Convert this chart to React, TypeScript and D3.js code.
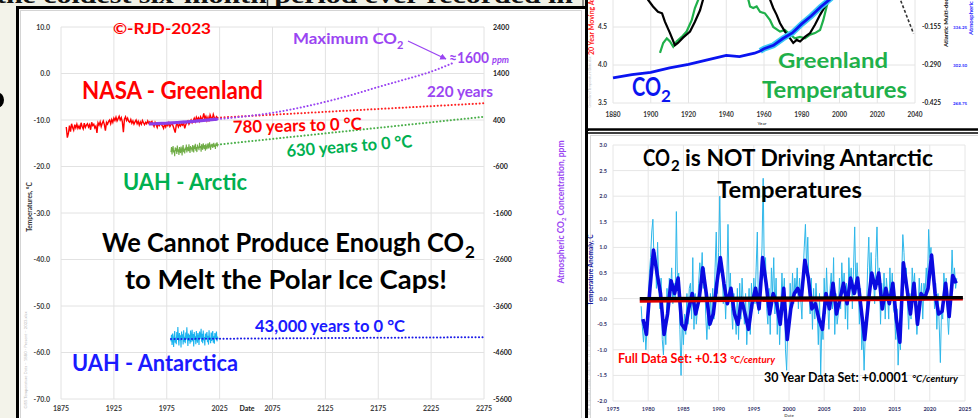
import React from "react";
import * as d3 from "d3";

const FONT = "Lato, 'Open Sans', sans-serif";

// ---------------- Left chart: polar temperatures vs CO2 ----------------
const leftYearTicks = [1875, 1925, 1975, 2025, 2075, 2125, 2175, 2225, 2275];
const leftTempTicks = [10, 0, -10, -20, -30, -40, -50, -60, -70];
const leftCo2Ticks = [2400, 1400, 400, -600, -1600, -2600, -3600, -4600, -5600];

const greenlandFirstYear = 1880;
const greenlandTemps = [
  -11.5, -13.8, -12.9, -11.2, -12.5, -10.8, -11.6, -12.2, -11.0, -11.7,
  -10.9, -11.8, -11.3, -12.0, -10.6, -11.4, -11.9, -10.7, -11.6, -11.1,
  -10.8, -11.5, -11.0, -12.1, -10.5, -11.2, -10.9, -11.7, -11.3, -12.8,
  -10.6, -11.1, -10.4, -11.4, -10.7, -10.2, -11.0, -12.3, -10.5, -10.9,
  -10.3, -10.0, -10.8, -9.9, -10.5, -9.6, -10.1, -9.4, -10.2, -9.7,
  -9.2, -10.0, -9.5, -10.4, -12.6, -9.8, -9.3, -10.1, -9.6, -10.3,
  -10.5, -9.9, -10.7, -10.2, -10.9, -10.4, -10.0, -10.8, -10.3, -11.1,
  -10.4, -10.9, -10.1, -10.6, -11.0, -10.5, -10.8, -10.2, -10.7, -10.4,
  -10.6, -10.3, -10.9, -11.4, -10.5, -11.0, -11.6, -10.8, -11.2, -10.7,
  -11.0, -11.3, -11.8, -10.9, -11.5, -10.8, -11.2, -10.6, -11.4, -11.0,
  -10.7, -11.3, -12.0, -12.7, -11.1, -10.8, -11.5, -10.9, -11.3, -10.8,
  -11.1, -10.6, -11.8, -11.0, -10.5, -10.2, -10.9, -10.4, -10.0, -10.6,
  -10.1, -9.6, -10.3, -9.4, -9.9, -9.5, -10.2, -9.3, -9.8, -9.6,
  -8.6, -9.7, -9.2, -10.1, -9.4, -10.3, -8.9, -9.5, -9.8, -8.8,
  -9.5, -9.9, -9.3, -9.6,
];

const arcticFirstYear = 1979;
const arcticStepYears = 0.5;
const arcticTemps = [
  -16.9, -15.8, -17.4, -16.2, -15.6, -17.0, -16.5, -17.8, -15.9, -16.7,
  -16.1, -17.3, -15.5, -16.8, -16.3, -17.5, -15.8, -16.6, -17.1, -15.7,
  -16.4, -17.6, -16.0, -15.4, -16.9, -16.2, -17.2, -15.9, -16.5, -15.3,
  -17.0, -16.1, -15.8, -16.7, -15.2, -16.4, -17.1, -15.6, -16.3, -15.9,
  -16.8, -15.4, -16.0, -17.0, -15.5, -16.2, -15.1, -16.6, -15.8, -16.9,
  -15.3, -16.1, -15.7, -16.5, -14.9, -16.0, -15.6, -16.8, -15.2, -15.9,
  -16.4, -15.0, -15.7, -16.2, -15.4, -16.6, -15.1, -15.8, -16.3, -15.5,
  -15.0, -16.1, -15.6, -14.8, -15.9, -16.4, -15.2, -15.7, -15.1, -16.0,
  -15.4, -14.9, -15.8, -15.3, -16.2, -15.0, -15.6, -14.8, -15.5, -15.2,
];

const antarcticFirstYear = 1979;
const antarcticStepYears = 0.5;
const antarcticTemps = [
  -57.6, -56.2, -58.4, -55.9, -57.1, -58.8, -56.5, -55.4, -57.9, -56.8,
  -58.2, -55.6, -57.3, -54.5, -56.9, -58.5, -55.8, -57.4, -56.3, -58.9,
  -55.5, -57.0, -56.1, -58.3, -55.2, -57.7, -56.6, -58.0, -55.7, -57.2,
  -54.6, -56.7, -58.6, -55.9, -57.5, -56.2, -58.1, -55.3, -57.8, -56.4,
  -55.1, -57.6, -56.0, -58.7, -55.6, -57.3, -56.5, -58.2, -55.4, -56.9,
  -57.9, -55.8, -56.6, -58.4, -55.5, -57.1, -56.3, -54.9, -57.7, -56.0,
  -58.0, -55.3, -57.4, -56.7, -58.5, -55.9, -57.0, -56.2, -55.6, -57.8,
  -56.4, -58.3, -55.2, -57.2, -56.8, -58.0, -55.7, -57.5, -56.1, -55.4,
  -57.9, -56.5, -58.1, -55.8, -57.0, -56.3, -55.5, -57.6, -56.6, -57.1,
];

const co2Years = [1958, 1960, 1965, 1970, 1975, 1980, 1985, 1990, 1995, 2000, 2005, 2010, 2015, 2020, 2023];
const co2Ppm = [315, 317, 320, 326, 331, 339, 346, 354, 361, 369, 380, 390, 401, 414, 420];
const co2ProjYears = [2023, 2050, 2075, 2100, 2125, 2150, 2175, 2200, 2225, 2245];
const co2ProjPpm = [420, 480, 555, 660, 790, 940, 1110, 1270, 1440, 1620];

const projYears = [2023, 2275];
const greenlandTrend = [-9.5, -6.4];
const arcticTrend = [-15.3, -9.3];
const antarcticTrendYears = [1979, 2275];
const antarcticTrend = [-57.1, -56.7];

// ---------------- Top-right chart: Greenland temps, AMO, CO2 ----------------
const trYearTicks = [1880, 1900, 1920, 1940, 1960, 1980, 2000, 2020, 2040];
const trTempTicks = [4.5, 4.0, 3.5];
const trAmoTicks = [-0.155, -0.29, -0.425];
const trCo2Ticks = [336.25, 302.5, 268.75];

const amoSeg1: [number, number][] = [
  [1896, 5.0], [1898.5, 4.86], [1901.2, 4.77], [1903.8, 4.7], [1906, 4.68], [1907.5, 4.57],
  [1910.2, 4.42], [1912.8, 4.26], [1914.4, 4.29], [1917.1, 4.36], [1920.8, 4.44],
  [1923.4, 4.57], [1926.1, 4.72], [1927.7, 4.86], [1930, 5.0],
];
const amoSeg2: [number, number][] = [
  [1961, 5.0], [1963.2, 4.86], [1964.9, 4.75], [1966.7, 4.66], [1968.5, 4.55], [1971.1, 4.44],
  [1973.8, 4.35], [1975.5, 4.29], [1977.3, 4.33], [1979.1, 4.31], [1981.7, 4.37],
  [1984.4, 4.42], [1987, 4.53], [1989.7, 4.66], [1992.3, 4.77], [1995, 4.86], [1997, 5.0],
];
const grnSeg1: [number, number][] = [
  [1904.9, 4.16], [1906.6, 4.29], [1908.5, 4.35], [1910.2, 4.31], [1911.9, 4.24], [1913.7, 4.31],
  [1916.4, 4.37], [1919, 4.44], [1921.7, 4.59], [1923.4, 4.75], [1925.2, 4.86], [1927, 5.0],
];
const grnSeg2: [number, number][] = [
  [1950, 5.0], [1951.7, 4.86], [1952.6, 4.77], [1954.3, 4.75], [1956.1, 4.77], [1957.9, 4.7],
  [1960.5, 4.68], [1963.2, 4.59], [1964.9, 4.5], [1968.5, 4.44], [1971.1, 4.46], [1973.8, 4.4],
  [1976.4, 4.35], [1979.1, 4.37], [1981.7, 4.35], [1984.4, 4.4], [1987, 4.42], [1989.7, 4.46],
  [1991.4, 4.59], [1993.2, 4.77], [1994.1, 4.86], [1995.5, 5.0],
];
const trCo2Years = [1880, 1890, 1900, 1910, 1920, 1930, 1940, 1947, 1955, 1958, 1960, 1965, 1970, 1975, 1980, 1985, 1990, 1995, 2000];
const trCo2Ppm = [291, 294, 296, 300, 303, 307, 311, 310, 313, 315, 317, 320, 326, 331, 339, 346, 354, 361, 369];
const amoProjection: [number, number][] = [[2031.5, -0.045], [2039.2, -0.178]];

// ---------------- Bottom-right chart: Antarctic anomaly ----------------
const brYearTicks = [1975, 1980, 1985, 1990, 1995, 2000, 2005, 2010, 2015, 2020, 2025];
const brAnomTicks = [3, 2.5, 2, 1.5, 1, 0.5, 0, -0.5, -1, -1.5, -2];
const antMonthlyFirst = 1979;
const antMonthlyStep = 1 / 6;
const antMonthly = [
  -0.15, -0.55, -0.85, -0.45, -1.0, -0.6,
  -0.3, 0.5, 0.8, 1.3, 1.55, 0.7,
  0.9, 0.2, 1.1, 0.3, -0.2, 0.4,
  -0.8, -1.1, -0.4, -0.9, 0.2, -0.3,
  0.4, 0.1, 0.6, -0.1, 0.3, 0.0,
  1.7, 0.2, 0.5, -0.6, -1.5, -0.4,
  -0.9, -0.3, -0.7, 0.1, -0.5, 0.2,
  0.3, -0.4, 0.8, -0.6, 0.1, -0.5,
  -0.2, 0.3, 0.7, 0.4, 0.9, 0.2,
  0.6, -0.3, -0.8, -0.2, -0.6, 0.1,
  -0.5, 0.2, -0.4, 0.6, 1.3, 0.1,
  0.9, 2.0, 0.5, 0.7, -0.1, 0.3,
  -0.4, 0.3, 1.45, 0.1, 0.5, -0.2,
  -0.6, 0.1, -0.3, -0.7, 0.2, -0.8,
  0.3, -0.4, 0.4, -0.1, -0.5, 0.1,
  -0.9, -0.3, 0.2, -0.7, 0.3, -0.2,
  0.4, -0.1, 0.6, 1.3, -0.3, 0.2,
  0.5, 1.0, 2.35, 0.4, 0.8, -0.2,
  -0.5, 0.2, -0.7, 0.6, 0.1, 0.8,
  -0.3, 0.4, -0.7, 0.0, -0.9, -0.2,
  0.5, -0.1, 0.4, -1.0, -1.4, -0.5,
  -0.6, 0.3, -0.3, 0.5, -0.1, 0.4,
  0.1, 0.6, -0.2, 0.4, 0.0, -0.4,
  0.5, 1.0, 1.45, 0.6, 1.2, 0.2,
  -0.3, 0.4, -0.6, 0.2, -0.4, 0.3,
  -0.2, -0.9, 0.1, -1.5, -0.5, -0.8,
  0.4, -0.3, 0.6, -0.1, -0.6, 0.2,
  0.5, -0.2, 0.8, -0.7, 0.1, -0.5,
  -0.3, 0.4, -0.2, 0.7, 0.1, 0.5,
  -0.4, 0.3, -0.6, 0.8, 0.2, 0.6,
  -0.2, 0.6, 1.4, 0.1, 0.7, 0.3,
  -0.5, 0.2, -1.0, -0.6, -1.4, -0.7,
  -0.3, 0.6, 1.2, 0.2, 0.9, 0.3,
  0.4, -0.1, 0.8, 1.4, 0.3, 0.6,
  -0.5, 0.3, -0.2, 0.5, -0.4, 0.4,
  0.1, -0.4, 0.6, 0.0, 0.5, -0.2,
  -0.3, -0.8, -0.2, -1.3, -0.7, -1.0,
  0.4, 1.25, 0.9, 0.3, 0.6, -0.1,
  -0.6, 0.1, -0.4, 0.6, 0.2, 0.5,
  -0.2, -0.7, -0.3, 0.4, -0.1, 0.3,
  -0.4, 0.3, 0.1, 0.6, 0.2, 1.35,
  0.8, 1.0, 0.5, 0.7, -0.2, 0.3,
  -0.6, 0.1, -0.5, -1.25, -0.2, -0.4,
  0.5, 0.1, 0.4, -0.3, -0.7, -0.1,
  0.2, 0.95, 0.3, 0.6, 0.2, 0.4,
];
const antSmoothFirst = 1979.25;
const antSmoothStep = 0.5;
const antSmooth = [
  -0.4, -0.7, 0.2, 0.95, 0.5, 0.1, -0.7, -0.3, 0.35, 0.1,
  0.4, -0.5, -0.6, -0.2, 0.1, -0.3, 0.0, 0.6, 0.1, -0.5,
  -0.3, 0.3, 0.8, 0.3, -0.1, 0.2, -0.3, -0.5, 0.0, -0.3,
  -0.6, -0.1, 0.2, -0.2, 0.8, 0.3, -0.3, 0.1, -0.1, -0.5,
  0.2, -0.8, -0.2, 0.1, 0.2, 0.0, 0.75, 0.4, -0.2, -0.1,
  -0.4, -0.6, 0.1, -0.2, 0.3, -0.3, 0.0, 0.3, -0.1, 0.4,
  0.1, 0.4, -0.2, -0.8, -0.1, 0.5, 0.2, 0.5, -0.2, 0.2,
  -0.1, 0.3, -0.4, -0.85, 0.7, 0.2, -0.3, 0.3, -0.5, 0.1,
  0.0, 0.2, 0.85, 0.1, -0.3, -0.25, 0.3, -0.35, 0.45, 0.3,
];
const fullTrendYears = [1978.8, 2024.7];
const fullTrendVals = [-0.05, -0.01];
const thirtyTrendYears = [1978.8, 2024.7];
const thirtyTrendVals = [0.0, 0.02];

const PURPLE = "#9a45f2";
const GREEN_TXT = "#00b050";

export default function App() {
  // scales
  const xL = d3.scaleLinear().domain([1875, 2275]).range([61, 484]);
  const yL = d3.scaleLinear().domain([-70, 10]).range([399, 27]);
  const yLc = d3.scaleLinear().domain([-5600, 2400]).range([399, 27]);

  const xT = d3.scaleLinear().domain([1880, 2040]).range([613, 915]);
  const yT = d3.scaleLinear().domain([3.5, 4.5]).range([103, 27]);
  const yTa = d3.scaleLinear().domain([-0.425, -0.155]).range([103, 27]);
  const yTc = d3.scaleLinear().domain([268.75, 336.25]).range([103, 27]);

  const xB = d3.scaleLinear().domain([1975, 2025]).range([613, 965]);
  const yB = d3.scaleLinear().domain([-2, 3]).range([401, 145]);

  const stepPath = (first: number, step: number, vals: number[], sx: any, sy: any) =>
    d3.line<number>().x((_, i) => sx(first + i * step)).y((v) => sy(v))(vals) || "";
  const pairPath = (xs: number[], ys: number[], sx: any, sy: any, curve?: any) => {
    const g = d3.line<number>().x((_, i) => sx(xs[i])).y((v) => sy(v));
    if (curve) g.curve(curve);
    return g(ys) || "";
  };
  const tuplePath = (pts: [number, number][], sx: any, sy: any) =>
    d3.line<[number, number]>().x((d) => sx(d[0])).y((d) => sy(d[1]))(pts) || "";

  const tick = { fontFamily: FONT, fontWeight: 700 } as const;

  return (
    <div style={{ position: "absolute", left: 0, top: 0, width: 978, height: 418, overflow: "hidden" }}>
      <svg width={978} height={418} viewBox="0 0 978 418" style={{ display: "block" }}>
        <defs>
          <marker id="arrowP" viewBox="0 0 10 10" refX="9" refY="5" markerWidth="5" markerHeight="5" orient="auto">
            <path d="M0,0 L10,5 L0,10 z" fill={PURPLE} />
          </marker>
          <clipPath id="clipTR">
            <rect x={588} y={0} width={390} height={128} />
          </clipPath>
          <clipPath id="clipBR">
            <rect x={613} y={140} width={355} height={262} />
          </clipPath>
        </defs>

        {/* slide background */}
        <rect x={0} y={0} width={978} height={418} fill="#f3f3ea" />
        {/* top strip with cropped heading */}
        <rect x={0} y={0} width={586} height={6} fill="#f0f1e6" />
        <text x={-4} y={3} fontFamily="'Liberation Serif', serif" fontWeight={700} fontSize={24}
          textLength={577} lengthAdjust="spacingAndGlyphs" fill="#111">
          the coldest six-month period ever recorded in
        </text>
        <line x1={267.5} y1={0} x2={267.5} y2={6} stroke="#333" strokeWidth={1.5} />
        <ellipse cx={-2} cy={100} rx={6} ry={7.5} fill="#000" />

        {/* ===== LEFT PANEL ===== */}
        <rect x={17.5} y={7.5} width={570} height={420} fill="#fff" stroke="#000" strokeWidth={3} />
        <rect x={20.5} y={10.5} width={561} height={415} fill="none" stroke="#d4d4d4" strokeWidth={1} />

        {leftTempTicks.map((t) => (
          <line key={"lg" + t} x1={61} x2={484} y1={yL(t)} y2={yL(t)} stroke="#e2e2e2" strokeWidth={1} />
        ))}
        {leftYearTicks.map((y) => (
          <line key={"lv" + y} x1={xL(y)} x2={xL(y)} y1={27} y2={399} stroke="#e2e2e2" strokeWidth={1} />
        ))}
        {leftTempTicks.map((t) => (
          <text key={"lt" + t} x={50} y={yL(t) + 2.5} textAnchor="end" fontSize={7} fill="#404040" {...tick}>
            {t.toFixed(1)}
          </text>
        ))}
        {leftCo2Ticks.map((c) => (
          <text key={"lc" + c} x={493} y={yLc(c) + 2.5} fontSize={7} fill="#222" {...tick}>
            {c}
          </text>
        ))}
        {leftYearTicks.map((y) => (
          <text key={"lx" + y} x={xL(y)} y={411} textAnchor="middle" fontSize={7} fill="#404040" {...tick}>
            {y}
          </text>
        ))}
        <text x={247} y={411} textAnchor="middle" fontSize={7} fill="#222" {...tick}>Date</text>
        <text transform="translate(32,207) rotate(-90)" textAnchor="middle" fontSize={6.5} fill="#333" {...tick}>
          Temperatures, °C
        </text>
        <text transform="translate(564,212) rotate(-90)" textAnchor="middle" fontSize={8.5} fill={PURPLE} {...tick}>
          Atmospheric CO<tspan fontSize={6} dy={2}>2</tspan><tspan dy={-2}> Concentration, ppm</tspan>
        </text>
        <text transform="translate(27,360) rotate(-90)" textAnchor="middle" fontSize={4.2} fill="#bbb" fontFamily={FONT}>
          GISS Temperature Data – 1880 - Present – 2023.xlsx
        </text>

        {/* projections */}
        <path d={pairPath(projYears, greenlandTrend, xL, yL)} fill="none" stroke="#ff2020" strokeWidth={2}
          strokeDasharray="0.1 3.4" strokeLinecap="round" />
        <path d={pairPath(projYears, arcticTrend, xL, yL)} fill="none" stroke="#4cb04c" strokeWidth={2}
          strokeDasharray="0.1 3.4" strokeLinecap="round" />
        <path d={pairPath(co2ProjYears, co2ProjPpm, xL, yLc, d3.curveMonotoneX)} fill="none" stroke={PURPLE}
          strokeWidth={2} strokeDasharray="0.1 3.4" strokeLinecap="round" />

        {/* data */}
        <path d={stepPath(greenlandFirstYear, 1, greenlandTemps, xL, yL)} fill="none" stroke="#ff0000" strokeWidth={1.4} />
        <path d={pairPath(co2Years, co2Ppm, xL, yLc)} fill="none" stroke="#8a3fe8" strokeWidth={3.2} />
        <path d={stepPath(arcticFirstYear, arcticStepYears, arcticTemps, xL, yL)} fill="none" stroke="#70ad47" strokeWidth={1.1} />
        <path d={stepPath(antarcticFirstYear, antarcticStepYears, antarcticTemps, xL, yL)} fill="none" stroke="#1cb4ef" strokeWidth={1.1} />
        <path d={pairPath(antarcticTrendYears, antarcticTrend, xL, yL)} fill="none" stroke="#1a1ae6" strokeWidth={2}
          strokeDasharray="0.1 3.4" strokeLinecap="round" />

        {/* annotations */}
        <text x={113} y={34} fontFamily={FONT} fontWeight={700} fontSize={16} fill="#ff0000" textLength={98} lengthAdjust="spacingAndGlyphs">©-RJD-2023</text>
        <text x={293} y={44} fontFamily={FONT} fontWeight={700} fontSize={16} fill={PURPLE} textLength={104} lengthAdjust="spacingAndGlyphs">Maximum CO</text>
        <text x={397} y={49} fontFamily={FONT} fontWeight={700} fontSize={11} fill={PURPLE}>2</text>
        <line x1={408} y1={41} x2={446} y2={59} stroke={PURPLE} strokeWidth={1.3} markerEnd="url(#arrowP)" />
        <text x={449} y={63} fontFamily={FONT} fontWeight={700} fontSize={15} fill={PURPLE} textLength={40} lengthAdjust="spacingAndGlyphs">≈1600</text>
        <text x={492} y={63} fontFamily={FONT} fontWeight={700} fontStyle="italic" fontSize={10} fill={PURPLE} textLength={17} lengthAdjust="spacingAndGlyphs">ppm</text>
        <text x={82} y={99} fontFamily={FONT} fontWeight={700} fontSize={24} fill="#ff0000" textLength={181} lengthAdjust="spacingAndGlyphs">NASA - Greenland</text>
        <text x={427} y={97} fontFamily={FONT} fontWeight={700} fontSize={16} fill={PURPLE} textLength={66} lengthAdjust="spacingAndGlyphs">220 years</text>
        <text x={233} y={133} transform="rotate(-1.5,233,133)" fontFamily={FONT} fontWeight={700} fontSize={17} fill="#ff0000" textLength={129} lengthAdjust="spacingAndGlyphs">780 years to 0 °C</text>
        <text x={287} y={157} transform="rotate(-4.5,287,157)" fontFamily={FONT} fontWeight={700} fontSize={17} fill={GREEN_TXT} textLength={126} lengthAdjust="spacingAndGlyphs">630 years to 0 °C</text>
        <text x={123} y={190} fontFamily={FONT} fontWeight={700} fontSize={22} fill={GREEN_TXT} textLength={124} lengthAdjust="spacingAndGlyphs">UAH - Arctic</text>
        <text x={102} y={252} fontFamily={FONT} fontWeight={700} fontSize={26} fill="#000" textLength={362} lengthAdjust="spacingAndGlyphs">We Cannot Produce Enough CO</text>
        <text x={465} y={258} fontFamily={FONT} fontWeight={700} fontSize={17} fill="#000">2</text>
        <text x={125} y={289} fontFamily={FONT} fontWeight={700} fontSize={26} fill="#000" textLength={322} lengthAdjust="spacingAndGlyphs">to Melt the Polar Ice Caps!</text>
        <text x={255} y={332} fontFamily={FONT} fontWeight={700} fontSize={17} fill="#1a1aff" textLength={150} lengthAdjust="spacingAndGlyphs">43,000 years to 0 °C</text>
        <text x={72} y={371} fontFamily={FONT} fontWeight={700} fontSize={23} fill="#1a1aff" textLength={166} lengthAdjust="spacingAndGlyphs">UAH - Antarctica</text>

        {/* ===== TOP-RIGHT PANEL ===== */}
        <rect x={586} y={0} width={392} height={129} fill="#fff" />
        <g clipPath="url(#clipTR)">
          {trTempTicks.map((t) => (
            <line key={"tg" + t} x1={613} x2={915} y1={yT(t)} y2={yT(t)} stroke="#e4e4e4" strokeWidth={1} />
          ))}
          {trYearTicks.map((y) => (
            <line key={"tv" + y} x1={xT(y)} x2={xT(y)} y1={0} y2={103} stroke="#e4e4e4" strokeWidth={1} />
          ))}
          <path d={tuplePath(grnSeg1, xT, yT)} fill="none" stroke="#1fb04a" strokeWidth={2.2} />
          <path d={tuplePath(grnSeg2, xT, yT)} fill="none" stroke="#1fb04a" strokeWidth={2.2} />
          <path d={tuplePath(amoSeg1, xT, yT)} fill="none" stroke="#000" strokeWidth={2.2} />
          <path d={tuplePath(amoSeg2, xT, yT)} fill="none" stroke="#000" strokeWidth={2.2} />
          <path d={pairPath(trCo2Years.slice(9), trCo2Ppm.slice(9), xT, yTc)} fill="none" stroke="#3cc8f4" strokeWidth={6} />
          <path d={pairPath(trCo2Years, trCo2Ppm, xT, yTc)} fill="none" stroke="#0a14f0" strokeWidth={2.8} />
          <path d={tuplePath(amoProjection, xT, yTa)} fill="none" stroke="#333" strokeWidth={1.6} strokeDasharray="3 2" />
        </g>
        {trTempTicks.map((t) => (
          <text key={"tl" + t} x={607} y={yT(t) + 2.2} textAnchor="end" fontSize={6.5} fill="#333" {...tick}>
            {t.toFixed(1)}
          </text>
        ))}
        {trAmoTicks.map((t) => (
          <text key={"ta" + t} x={922} y={yTa(t) + 2.2} fontSize={6.5} fill="#222" {...tick}>
            {t.toFixed(3)}
          </text>
        ))}
        {trCo2Ticks.map((t) => (
          <text key={"tc" + t} x={953} y={yTc(t) + 1.8} fontSize={4.5} fill="#2a2aff" {...tick}>
            {t.toFixed(2)}
          </text>
        ))}
        {trYearTicks.map((y) => (
          <text key={"tx" + y} x={xT(y)} y={117} textAnchor="middle" fontSize={6.5} fill="#333" {...tick}>
            {y}
          </text>
        ))}
        <text x={762} y={125} textAnchor="middle" fontSize={4.5} fill="#555" {...tick}>Year</text>
        <text transform="translate(594,55) rotate(-90)" fontSize={7} fill="#ff2020" {...tick}>20 Year Moving Average, °C</text>
        <text transform="translate(948,47) rotate(-90)" fontSize={6} fill="#111" {...tick}>Atlantic Multi-decadal Oscillation</text>
        <text transform="translate(973,35) rotate(-90)" fontSize={6} fill="#2a2aff" {...tick}>Atmospheric CO2, ppm</text>
        <text transform="translate(591,82) rotate(-90)" textAnchor="middle" fontSize={3.5} fill="#bbb" fontFamily={FONT}>Greenland Temperature Data.xlsx</text>
        <text x={632} y={96} fontFamily={FONT} fontWeight={700} fontSize={26} fill="#0a14f0" textLength={29} lengthAdjust="spacingAndGlyphs">CO</text>
        <text x={661} y={102} fontFamily={FONT} fontWeight={700} fontSize={17} fill="#0a14f0">2</text>
        <text x={778} y={68} fontFamily={FONT} fontWeight={700} fontSize={21} fill="#1fb04a" textLength={110} lengthAdjust="spacingAndGlyphs">Greenland</text>
        <text x={762} y={98} fontFamily={FONT} fontWeight={700} fontSize={22} fill="#1fb04a" textLength={145} lengthAdjust="spacingAndGlyphs">Temperatures</text>

        {/* ===== BOTTOM-RIGHT PANEL ===== */}
        <rect x={586} y={131} width={392} height={290} fill="#fff" />
        <rect x={590.5} y={135.5} width={390} height={290} fill="none" stroke="#d8d8d8" strokeWidth={1} />
        {brAnomTicks.map((t) => (
          <line key={"bg" + t} x1={613} x2={965} y1={yB(t)} y2={yB(t)} stroke="#e6e6e6" strokeWidth={1} />
        ))}
        {brYearTicks.map((y) => (
          <line key={"bv" + y} x1={xB(y)} x2={xB(y)} y1={145} y2={401} stroke="#e6e6e6" strokeWidth={1} />
        ))}
        <g clipPath="url(#clipBR)">
          <path d={stepPath(antMonthlyFirst, antMonthlyStep, antMonthly, xB, yB)} fill="none" stroke="#2db7ea" strokeWidth={1} />
          <path d={stepPath(antSmoothFirst, antSmoothStep, antSmooth, xB, yB)} fill="none" stroke="#0a0ae0" strokeWidth={3.6}
            strokeLinejoin="round" />
          <path d={pairPath(fullTrendYears, fullTrendVals, xB, yB)} fill="none" stroke="#e00000" strokeWidth={3} />
          <path d={pairPath(thirtyTrendYears, thirtyTrendVals, xB, yB)} fill="none" stroke="#000" strokeWidth={3.2} />
        </g>
        {brAnomTicks.map((t) => (
          <text key={"bl" + t} x={607} y={yB(t) + 2} textAnchor="end" fontSize={5.5} fill="#33336a" {...tick}>
            {t.toFixed(1)}
          </text>
        ))}
        {brYearTicks.map((y) => (
          <text key={"bx" + y} x={xB(y)} y={411} textAnchor="middle" fontSize={5.5} fill="#33336a" {...tick}>
            {y}
          </text>
        ))}
        <text x={789} y={417} textAnchor="middle" fontSize={4.5} fill="#666" {...tick}>Date</text>
        <text transform="translate(593,270) rotate(-90)" textAnchor="middle" fontSize={6.5} fill="#1a1aa0" {...tick}>
          Temperature Anomaly, C
        </text>
        <text transform="translate(590,375) rotate(-90)" textAnchor="middle" fontSize={3.5} fill="#c4c4c4" fontFamily={FONT}>
          UAH Temperature Data – Antarctic – 1979 - Present
        </text>
        <text x={643} y={166} fontFamily={FONT} fontWeight={700} fontSize={23} fill="#000" textLength={27} lengthAdjust="spacingAndGlyphs">CO</text>
        <text x={671} y={171} fontFamily={FONT} fontWeight={700} fontSize={15} fill="#000">2</text>
        <text x={685} y={166} fontFamily={FONT} fontWeight={700} fontSize={23} fill="#000" textLength={248} lengthAdjust="spacingAndGlyphs">is NOT Driving Antarctic</text>
        <text x={717} y={198} fontFamily={FONT} fontWeight={700} fontSize={23} fill="#000" textLength={145} lengthAdjust="spacingAndGlyphs">Temperatures</text>
        <text x={618} y={363} fontFamily={FONT} fontWeight={700} fontSize={14} fill="#ff0000" textLength={109} lengthAdjust="spacingAndGlyphs">Full Data Set: +0.13</text>
        <text x={730} y={363} fontFamily={FONT} fontWeight={700} fontStyle="italic" fontSize={9} fill="#ff0000" textLength={45} lengthAdjust="spacingAndGlyphs">°C/century</text>
        <text x={764} y={382} fontFamily={FONT} fontWeight={700} fontSize={14} fill="#000" textLength={144} lengthAdjust="spacingAndGlyphs">30 Year Data Set: +0.0001</text>
        <text x={912} y={382} fontFamily={FONT} fontWeight={700} fontStyle="italic" fontSize={9} fill="#000" textLength={46} lengthAdjust="spacingAndGlyphs">°C/century</text>

        {/* panel frames */}
        <line x1={586.5} y1={0} x2={586.5} y2={418} stroke="#000" strokeWidth={3} />
        <line x1={583} y1={0} x2={583} y2={6} stroke="#333" strokeWidth={1} />
        <line x1={586} y1={129.5} x2={978} y2={129.5} stroke="#000" strokeWidth={2.5} />
        <line x1={586} y1={133} x2={978} y2={133} stroke="#000" strokeWidth={1.5} />
      </svg>
    </div>
  );
}
